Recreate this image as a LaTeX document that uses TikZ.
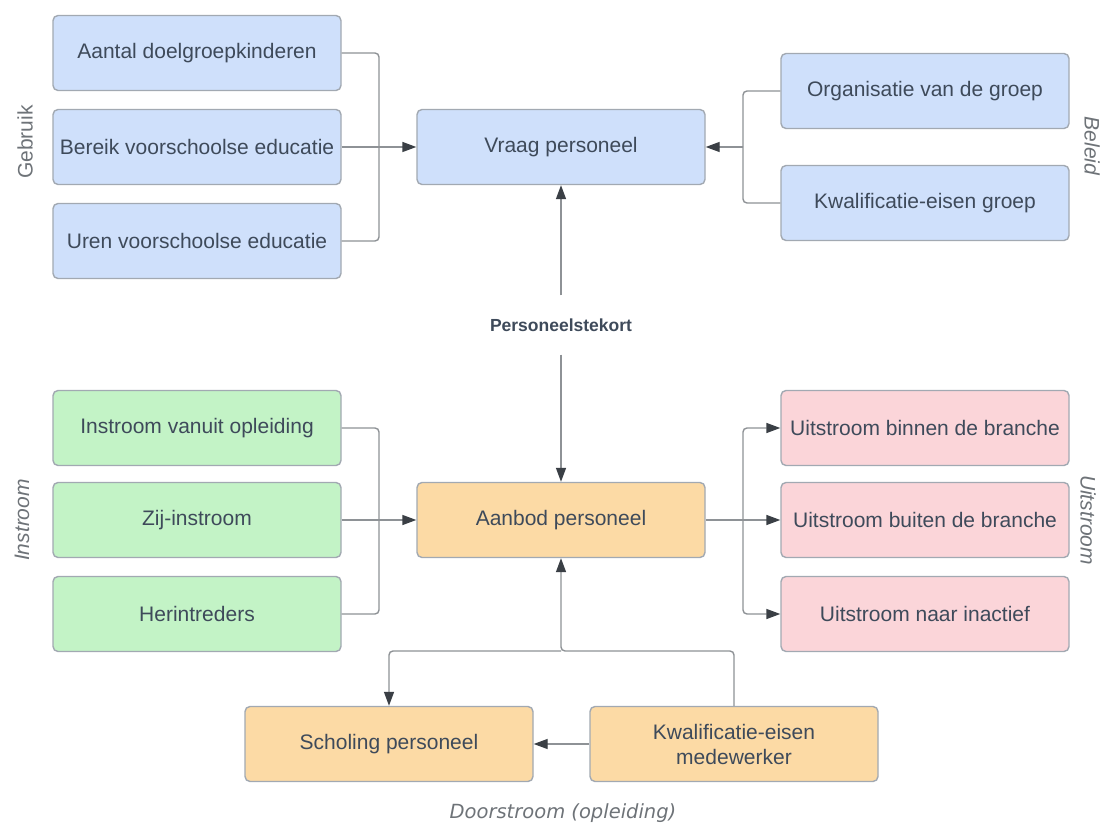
\documentclass[tikz,border=0pt]{standalone}
\usepackage{fontspec}
\setmainfont{Liberation Sans}
\newfontfamily\doorfont{DejaVu Sans}
\usetikzlibrary{arrows.meta}
\definecolor{txt}{HTML}{3E4A5A}
\definecolor{bfill}{HTML}{CFE0FB}
\definecolor{gfill}{HTML}{C3F3C6}
\definecolor{pfill}{HTML}{FBD5D9}
\definecolor{ofill}{HTML}{FCDAA5}
\definecolor{bord}{HTML}{A2A9B2}
\definecolor{linec}{HTML}{8E9296}
\definecolor{arrc}{HTML}{3A3F45}
\definecolor{sidec}{HTML}{6E7378}
\tikzset{
  box/.style={draw=bord, line width=1.4pt, rounded corners=5pt, minimum width=288pt, minimum height=75pt,
    text=txt, font=\fontsize{21}{25}\selectfont, align=center, inner sep=2pt},
  conn/.style={draw=linec, line width=1.4pt, rounded corners=4pt},
  arr/.style={conn, -{Triangle[length=14pt,width=10pt,color=arrc,fill=arrc]}},
  side/.style={text=sidec, font=\fontsize{21}{24}\selectfont},
}
\begin{document}
\begin{tikzpicture}[x=1pt,y=-1pt]
\useasboundingbox[fill=white] (0,0) rectangle (1101,826);
% top blue
\node[box, fill=bfill] (a1) at (197,53) {Aantal doelgroepkinderen};
\node[box, fill=bfill] (a2) at (197,147) {Bereik voorschoolse educatie};
\node[box, fill=bfill] (a3) at (197,241) {Uren voorschoolse educatie};
\node[box, fill=bfill] (vr) at (561,147) {Vraag personeel};
\node[box, fill=bfill] (r1) at (925,91) {Organisatie van de groep};
\node[box, fill=bfill] (r2) at (925,203) {Kwalificatie-eisen groep};
\node[side, rotate=90] (gb) at (25,142) {Gebruik};
\node[side, rotate=-90] (bl) at (1092,146) {\itshape Beleid};
% middle
\node[text=txt, font=\fontsize{17.5}{20}\selectfont\bfseries, minimum height=59pt, inner sep=0pt] (pt) at (561,325) {Personeelstekort};
% green / orange / pink
\node[box, fill=gfill] (g1) at (197,428) {Instroom vanuit opleiding};
\node[box, fill=gfill] (g2) at (197,520) {Zij-instroom};
\node[box, fill=gfill] (g3) at (197,614) {Herintreders};
\node[box, fill=ofill] (ab) at (561,520) {Aanbod personeel};
\node[box, fill=pfill] (p1) at (925,428) {Uitstroom binnen de branche};
\node[box, fill=pfill] (p2) at (925,520) {Uitstroom buiten de branche};
\node[box, fill=pfill] (p3) at (925,614) {Uitstroom naar inactief};
\node[side, rotate=90] (in) at (22,520) {\itshape Instroom};
\node[side, rotate=-90] (ui) at (1088,520) {\itshape Uitstroom};
% bottom
\node[box, fill=ofill] (sc) at (389,744) {Scholing personeel};
\node[box, fill=ofill] (kw) at (734,744) {Kwalificatie-eisen\\medewerker};
\node[text=sidec, font=\doorfont\itshape\fontsize{19.5}{22}\selectfont] (ds) at (563,813) {Doorstroom (opleiding)};
% coordinates
\coordinate (busL) at (379,147);
\coordinate (busR) at (743,147);
\coordinate (busG) at (379,520);
\coordinate (busP) at (743,520);
\coordinate (j) at (561,651);
% connectors top
\draw[conn] (a1.east) -| (busL);
\draw[conn] (a3.east) -| (busL);
\draw[arr] (a2.east) -- (vr.west);
\draw[conn] (r1.west) -| (busR);
\draw[conn] (r2.west) -| (busR);
\draw[arr] (busR) -- (vr.east);
\draw[arr] (pt.north) -- (vr.south);
\draw[arr] (pt.south) -- (ab.north);
% connectors green/pink
\draw[conn] (g1.east) -| (busG);
\draw[conn] (g3.east) -| (busG);
\draw[arr] (g2.east) -- (ab.west);
\draw[conn] (ab.east) -- (busP);
\draw[arr] (busP) -- (p2.west);
\draw[arr] (busP) |- (p1.west);
\draw[arr] (busP) |- (p3.west);
% bottom connectors
\draw[arr] (kw.north) |- (j) -- (ab.south);
\draw[arr] (j) -| (sc.north);
\draw[arr] (kw.west) -- (sc.east);
\end{tikzpicture}
\end{document}
